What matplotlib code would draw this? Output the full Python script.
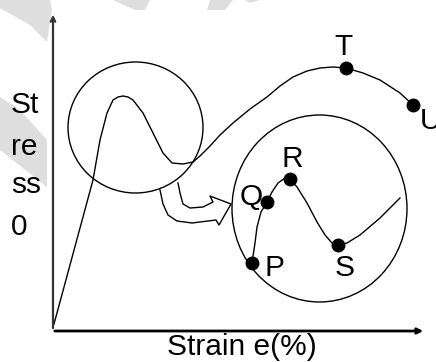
import matplotlib.pyplot as plt
from matplotlib.patches import Ellipse, Polygon

plt.rcParams['font.family'] = ['Liberation Sans', 'DejaVu Sans']

# everything is in picture units (x to the right, y downwards)
# main stress-strain curve
main_x = [54, 93, 100, 107, 113, 118, 123, 128, 133, 143, 153, 163, 172, 183, 193,
          200, 210, 220, 233, 250, 267, 280, 293, 307, 320, 333, 346, 363, 380, 400, 413]
main_y = [324, 180, 140, 113, 100, 97, 96, 97, 100, 113, 133, 153, 163, 164, 162,
          156, 146, 135, 123, 109, 97, 86, 77, 71, 68, 67, 68, 73, 80, 93, 105]

# enlarged detail curve inside the big circle
zoom_x = [252, 255, 257, 261, 267, 272, 278, 285, 290, 297, 307, 317, 325, 332, 338,
          347, 360, 380, 400]
zoom_y = [263, 243, 227, 212, 202, 192, 183, 178, 179, 187, 203, 222, 235, 243, 245,
          243, 235, 218, 198]

points = ['T', 'U', 'P', 'Q', 'R', 'S']
pt_x = [346, 413, 252, 267, 290, 338]
pt_y = [68, 105, 263, 202, 179, 245]
lab_x = [334, 420, 264, 240, 281, 335]
lab_y = [55, 129, 276, 205, 167, 276]

# hollow curved arrow from the small circle to the big one
arrow_x = [160, 163, 168, 177, 192, 216, 219, 231, 210, 213, 203, 190, 183, 180, 178]
arrow_y = [190, 204, 215, 221, 223, 220, 225, 204, 196, 202, 207, 208, 204, 193, 183]

# faint watermark shapes in the background
marks = [
    [(0, 0), (50, 0), (52, 10), (47, 42), (30, 25), (0, 8)],
    [(0, 97), (20, 110), (47, 140), (47, 187), (0, 150)],
    [(113, 0), (150, 0), (145, 10), (135, 10)],
    [(210, 0), (233, 0), (225, 10), (207, 10)],
    [(245, 0), (260, 0), (250, 3)],
]

fig = plt.figure(figsize=(4.36, 3.62), dpi=100)
ax = fig.add_axes([0, 0, 1, 1])
ax.set_xlim(0, 436)
ax.set_ylim(362, 0)
ax.axis('off')

for m in marks:
    ax.add_patch(Polygon(m, closed=True, fc='#dedede', ec='none', zorder=0))

# axes with arrows
ax.annotate('', xy=(53, 12), xytext=(53, 331),
            arrowprops=dict(arrowstyle='->', color='#333333', lw=1.6, mutation_scale=8))
ax.annotate('', xy=(426, 331), xytext=(52, 331),
            arrowprops=dict(arrowstyle='->', color='black', lw=2, mutation_scale=8))

ax.plot(main_x, main_y, color='black', lw=1.0)
ax.plot(zoom_x, zoom_y, color='black', lw=1.0)
ax.plot(arrow_x, arrow_y, color='black', lw=1.0)

ax.add_patch(Ellipse((135.5, 127.5), 135, 131, fc='none', ec='black', lw=1.0))
ax.add_patch(Ellipse((319.5, 208.5), 175, 187, fc='none', ec='black', lw=1.0))

ax.plot(pt_x, pt_y, 'o', color='black', ms=9)
for name, x, y in zip(points, lab_x, lab_y):
    ax.text(x, y, name, fontsize=21.5, ha='left', va='baseline')

for word, y in zip(['St', 're', 'ss', '0'], [113, 155, 193, 235]):
    ax.text(11, y, word, fontsize=21.5, ha='left', va='baseline')
ax.text(167, 355, 'Strain e(%)', fontsize=21.5, ha='left', va='baseline')

fig.savefig('out.png', dpi=100)
